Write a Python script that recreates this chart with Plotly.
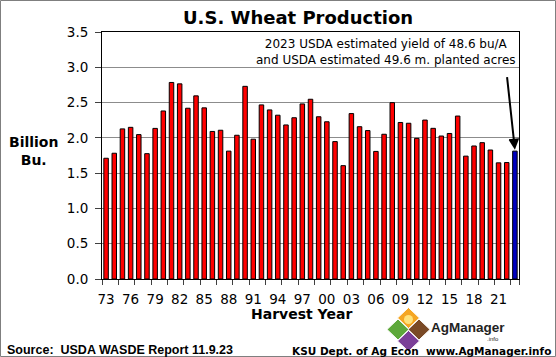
import plotly.graph_objects as go

years = list(range(1973, 2024))
production = [1.711, 1.782, 2.127, 2.149, 2.046, 1.776, 2.134, 2.381, 2.785, 2.765,
              2.420, 2.595, 2.425, 2.091, 2.108, 1.812, 2.037, 2.730, 1.981, 2.467,
              2.396, 2.321, 2.183, 2.285, 2.481, 2.547, 2.299, 2.228, 1.947, 1.606,
              2.344, 2.158, 2.103, 1.808, 2.051, 2.499, 2.218, 2.207, 1.993, 2.252,
              2.135, 2.026, 2.062, 2.309, 1.741, 1.885, 1.932, 1.828, 1.646, 1.650,
              1.812]
tick_years = years[::3]
tick_labels = ["73", "76", "79", "82", "85", "88", "91", "94", "97", "00", "03",
               "06", "09", "12", "15", "18", "21"]
y_ticks = [0.0, 0.5, 1.0, 1.5, 2.0, 2.5, 3.0, 3.5]

W, H = 556, 357
L, R, T, B = 102, 37, 32, 78
PW, PH = W - L - R, H - T - B


def px(x):
    return (x - L) / PW


def py(y):
    return (H - B - y) / PH


colors = ["#FF0000"] * (len(years) - 1) + ["#0000C0"]

fig = go.Figure()
fig.add_trace(go.Bar(
    x=years, y=production,
    marker=dict(color=colors, line=dict(color="black", width=1)),
    hoverinfo="x+y",
))
# helper trace so the label axis is drawn
fig.add_trace(go.Scatter(x=[years[0]], y=[None], xaxis="x2", yaxis="y",
                         mode="markers", showlegend=False, hoverinfo="skip"))

boundaries = [y - 0.5 for y in years[::2]] + [years[-1] + 0.5]
xrange_ = [years[0] - 0.5, years[-1] + 0.5]

font_main = "DejaVu Sans, Verdana, sans-serif"

fig.update_layout(
    width=W, height=H,
    margin=dict(l=L, r=R, t=T, b=B),
    paper_bgcolor="white", plot_bgcolor="white",
    bargap=0.45,
    showlegend=False,
    font=dict(family=font_main, color="black"),
    xaxis=dict(
        range=xrange_,
        tickvals=boundaries, ticktext=[""] * len(boundaries),
        ticks="outside", ticklen=5, tickcolor="#404040", tickwidth=1,
        showgrid=False, showline=True, linecolor="black", linewidth=1, mirror=True,
        zeroline=False,
    ),
    xaxis2=dict(
        range=xrange_, overlaying="x", anchor="y", side="bottom",
        tickvals=tick_years, ticktext=tick_labels,
        ticks="outside", ticklen=5, tickcolor="rgba(0,0,0,0)",
        ticklabelstandoff=3,
        tickfont=dict(size=13.5, family=font_main),
        showgrid=False, showline=False, zeroline=False,
    ),
    yaxis=dict(
        range=[0, 3.5], tickvals=y_ticks, tickformat=".1f",
        ticks="outside", ticklen=6, tickcolor="#404040",
        ticklabelstandoff=4,
        tickfont=dict(size=13.5, family=font_main),
        showgrid=True, gridcolor="#8C8C8C", gridwidth=1,
        showline=True, linecolor="black", linewidth=1, mirror=True,
        zeroline=False,
    ),
)


def txt(text, x, y, size, family=font_main, xanchor="center", color="black"):
    return dict(text=text, x=px(x), y=py(y), xref="paper", yref="paper",
                showarrow=False, xanchor=xanchor, yanchor="middle",
                font=dict(size=size, family=family, color=color))


sans = "Liberation Sans, Arial, sans-serif"
ann = [
    txt("<b>U.S. Wheat Production</b>", 298, 17.5, 18),
    txt("<b>Billion<br>Bu.</b>", 33, 151, 14),
    txt("<b>Harvest Year</b>", 301, 314, 14),
    txt("2023 USDA estimated yield of 48.6 bu/A<br>and USDA estimated 49.6 m. planted acres",
        386, 52, 12),
    txt("<b>Source:  USDA WASDE Report 11.9.23</b>", 5, 350, 12.5, sans, "left"),
    txt("<b>KSU Dept. of Ag Econ  www.AgManager.info</b>", 553, 351, 10.5, font_main, "right"),
    txt("<b>AgManager</b>", 429, 327, 13.5, sans, "left", "#222222"),
    txt(".info", 493, 339, 6, sans, "center", "#222222"),
    dict(text="", x=years[-1], y=production[-1] + 0.02, xref="x", yref="y",
         showarrow=True, ax=-8, ay=-74, arrowhead=2, arrowsize=1.1,
         arrowwidth=2, arrowcolor="black"),
]

shapes = []
shapes.append(dict(type="rect", xref="paper", yref="paper",
                   x0=px(0.5), x1=px(W - 0.5), y0=py(H - 0.5), y1=py(0.5),
                   line=dict(color="#7F7F7F", width=1), fillcolor="rgba(0,0,0,0)",
                   layer="below"))


def diamond(cx, cy, hw, hh, color):
    pts = [(cx, cy - hh), (cx + hw, cy), (cx, cy + hh), (cx - hw, cy)]
    path = "M " + " L ".join(f"{px(a):.5f},{py(b):.5f}" for a, b in pts) + " Z"
    return dict(type="path", xref="paper", yref="paper", path=path,
                fillcolor=color, line=dict(color="white", width=1))


shapes.append(diamond(408.5, 318, 11, 10.5, "#F5A623"))
shapes.append(diamond(398, 329.5, 11, 10.5, "#5DA83A"))
shapes.append(diamond(419, 329.5, 11, 10.5, "#7A4A26"))
shapes.append(diamond(408.5, 341, 11, 10.5, "#7B3F98"))
shapes.append(dict(type="circle", xref="paper", yref="paper",
                   x0=px(404), x1=px(413), y0=py(324), y1=py(315),
                   fillcolor="#FFE27A", line=dict(width=0)))

fig.update_layout(annotations=ann, shapes=shapes)
fig.write_html("out.html", config={"displayModeBar": False},
               post_script="document.body.style.margin='0';")
